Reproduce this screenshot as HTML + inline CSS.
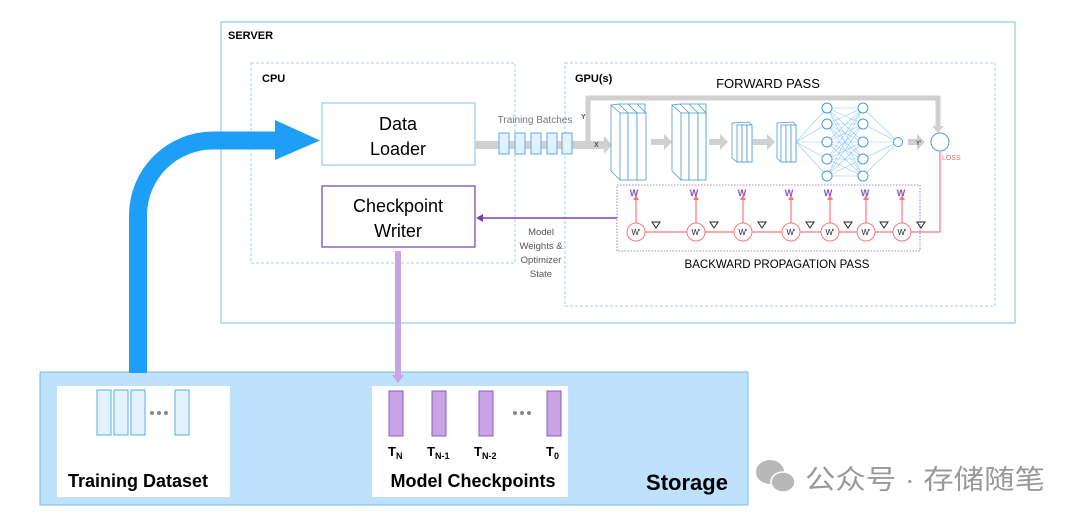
<!DOCTYPE html>
<html><head><meta charset="utf-8"><style>
html,body{margin:0;padding:0;background:#fff}
svg text{font-family:"Liberation Sans","Noto Sans CJK SC",sans-serif}
</style></head><body>
<svg width="1080" height="519" viewBox="0 0 1080 519" xmlns="http://www.w3.org/2000/svg">
<!-- server -->
<rect x="221" y="22" width="794" height="301" fill="none" stroke="#a6d4f5" stroke-width="1.5"/>
<text x="228" y="39" font-size="11" font-weight="bold">SERVER</text>
<rect x="251" y="63" width="264" height="200" fill="none" stroke="#9fd0f5" stroke-width="1" stroke-dasharray="3,2"/>
<text x="262" y="82" font-size="11" font-weight="bold">CPU</text>
<rect x="565" y="63" width="430" height="243" fill="none" stroke="#9fd0f5" stroke-width="1" stroke-dasharray="3,2"/>
<text x="575" y="82" font-size="11" font-weight="bold">GPU(s)</text>
<!-- storage -->
<rect x="40" y="372" width="708" height="133" fill="#bee2fb" stroke="#7bbbe8" stroke-width="1"/>
<rect x="57" y="386" width="173" height="111" fill="#fff"/>
<rect x="372" y="386" width="196" height="111" fill="#fff"/>
<g fill="#e3f2fd" stroke="#5aaee6" stroke-width="1">
<rect x="97" y="390" width="14" height="45"/><rect x="114" y="390" width="14" height="45"/><rect x="131" y="390" width="14" height="45"/><rect x="175" y="390" width="14" height="45"/>
</g>
<g fill="#888"><circle cx="152" cy="413" r="2"/><circle cx="159" cy="413" r="2"/><circle cx="166" cy="413" r="2"/></g>
<g fill="#c9a3e3" stroke="#8a5cc0" stroke-width="1">
<rect x="389" y="391" width="14" height="45"/><rect x="432" y="391" width="14" height="45"/><rect x="479" y="391" width="14" height="45"/><rect x="547" y="391" width="14" height="45"/>
</g>
<g fill="#888"><circle cx="515" cy="413" r="2"/><circle cx="522" cy="413" r="2"/><circle cx="529" cy="413" r="2"/></g>
<g font-size="13" font-weight="bold">
<text x="388" y="456">T<tspan font-size="9" dy="3">N</tspan></text>
<text x="427" y="456">T<tspan font-size="9" dy="3">N-1</tspan></text>
<text x="474" y="456">T<tspan font-size="9" dy="3">N-2</tspan></text>
<text x="546" y="456">T<tspan font-size="9" dy="3">0</tspan></text>
</g>
<text x="138" y="487" font-size="18" font-weight="bold" text-anchor="middle">Training Dataset</text>
<text x="473" y="487" font-size="18" font-weight="bold" text-anchor="middle">Model Checkpoints</text>
<text x="687" y="490" font-size="22" font-weight="bold" text-anchor="middle">Storage</text>
<!-- big blue arrow -->
<path d="M138 373 V215 A75 75 0 0 1 213 140.5 H277" fill="none" stroke="#1e9ff7" stroke-width="18"/>
<polygon points="275,120 320,140.5 275,160" fill="#1e9ff7"/>
<!-- boxes -->
<rect x="322" y="103" width="153" height="62" fill="#fff" stroke="#9fd0f5" stroke-width="1.3"/>
<text x="398" y="130" font-size="18" text-anchor="middle">Data</text>
<text x="398" y="155" font-size="18" text-anchor="middle">Loader</text>
<rect x="322" y="186" width="153" height="61" fill="#fff" stroke="#7b4fb0" stroke-width="1.3"/>
<text x="398" y="212" font-size="18" text-anchor="middle">Checkpoint</text>
<text x="398" y="237" font-size="18" text-anchor="middle">Writer</text>
<!-- purple down -->
<rect x="395" y="251" width="6" height="126" fill="#c9a3e3"/>
<polygon points="392,375 404,375 398,383" fill="#c9a3e3"/>
<!-- gray forward -->
<rect x="475" y="141" width="130" height="8" fill="#d0d0d0"/>
<polygon points="604,136 612,145 604,154" fill="#d0d0d0"/>
<path d="M588 145 V98 H938 V128" fill="none" stroke="#d0d0d0" stroke-width="5"/>
<polygon points="932,126 944,126 938,133" fill="#d0d0d0"/>
<text x="581" y="119" font-size="7" font-weight="bold" fill="#555">Y</text>
<text x="594" y="147" font-size="7" font-weight="bold" fill="#555">X</text>
<text x="535" y="123" font-size="10" fill="#777" text-anchor="middle">Training Batches</text>
<g fill="#e3f2fd" stroke="#5aaee6" stroke-width="1">
<rect x="499" y="133" width="10" height="21"/><rect x="515" y="133" width="10" height="21"/><rect x="531" y="133" width="10" height="21"/><rect x="547" y="133" width="10" height="21"/><rect x="562" y="133" width="10" height="21"/>
</g>
<text x="768" y="88" font-size="13" text-anchor="middle">FORWARD PASS</text>
<!-- gray arrows between layers -->
<g fill="#d0d0d0">
<polygon points="651,139 664,139 664,134 672,142 664,150 664,145 651,145"/>
<polygon points="709,139 720,139 720,134 728,142 720,150 720,145 709,145"/>
<polygon points="753,139 767,139 767,134 775,142 767,150 767,145 753,145"/>
<polygon points="908,139 917,139 917,134 925,142 917,150 917,145 908,145"/>
</g>
<text x="916" y="145" font-size="6" font-weight="bold" fill="#555">Y'</text>
<!-- layer blocks -->
<g fill="#fff" stroke="#4a9ad8" stroke-width="0.8">
<path d="M611 105 L619 104 L645 104 L645 178 L620 180 L611 171 Z"/>
<rect x="620" y="113" width="8" height="67"/><rect x="628" y="113" width="9" height="67"/><rect x="637" y="113" width="9" height="67"/>
<path d="M611 105 L620 113 M619 104 L628 113 M628 104 L637 113 M637 104 L646 113"/>
<path d="M672 105 L680 104 L706 104 L706 178 L681 180 L672 171 Z"/>
<rect x="681" y="113" width="8" height="67"/><rect x="689" y="113" width="9" height="67"/><rect x="698" y="113" width="8" height="67"/>
<path d="M672 105 L681 113 M680 104 L689 113 M689 104 L698 113 M698 104 L706 113"/>
<path d="M732 123 L749 122 L752 125 L752 162 L737 162 L732 158 Z"/>
<rect x="737" y="125" width="5" height="37"/><rect x="742" y="125" width="5" height="37"/><rect x="747" y="125" width="5" height="37"/>
<path d="M777 123 L793 122 L796 125 L796 162 L781 162 L777 158 Z"/>
<rect x="781" y="125" width="5" height="37"/><rect x="786" y="125" width="5" height="37"/><rect x="791" y="125" width="5" height="37"/>
</g>
<!-- NN -->
<g stroke="#8fcaf5" stroke-width="0.6">
<path d="M796 142 L827 108 M796 142 L827 124 M796 142 L827 142 M796 142 L827 159 M796 142 L827 176"/>
<path d="M827 108 L863 108 M827 108 L863 124 M827 108 L863 142 M827 108 L863 159 M827 108 L863 176
M827 124 L863 108 M827 124 L863 124 M827 124 L863 142 M827 124 L863 159 M827 124 L863 176
M827 142 L863 108 M827 142 L863 124 M827 142 L863 142 M827 142 L863 159 M827 142 L863 176
M827 159 L863 108 M827 159 L863 124 M827 159 L863 142 M827 159 L863 159 M827 159 L863 176
M827 176 L863 108 M827 176 L863 124 M827 176 L863 142 M827 176 L863 159 M827 176 L863 176"/>
<path d="M863 108 L898 142 M863 124 L898 142 M863 142 L898 142 M863 159 L898 142 M863 176 L898 142"/>
</g>
<g fill="#fff" stroke="#4a9ad8" stroke-width="1">
<circle cx="827" cy="108" r="5"/><circle cx="827" cy="124" r="5"/><circle cx="827" cy="142" r="5"/><circle cx="827" cy="159" r="5"/><circle cx="827" cy="176" r="5"/>
<circle cx="863" cy="108" r="5"/><circle cx="863" cy="124" r="5"/><circle cx="863" cy="142" r="5"/><circle cx="863" cy="159" r="5"/><circle cx="863" cy="176" r="5"/>
<circle cx="898" cy="142" r="4.5"/>
<circle cx="940" cy="142" r="9"/>
</g>
<text x="942" y="160" font-size="7" fill="#f07070">LOSS</text>
<!-- backward -->
<rect x="617" y="185" width="303" height="66" fill="none" stroke="#8a5cc0" stroke-width="0.8" stroke-dasharray="1.5,1.5"/>
<path d="M940 152 V232 H911" fill="none" stroke="#f87878" stroke-width="1.2"/>
<g stroke="#f87878" stroke-width="1.2" fill="none">
<path d="M893 232 H875 M857 232 H839 M821 232 H800 M782 232 H752 M734 232 H705 M687 232 H645"/>
<path d="M636 223 V199 M696 223 V199 M743 223 V199 M791 223 V199 M830 223 V199 M866 223 V199 M902 223 V199"/>
</g>
<g fill="#f87878">
<polygon points="911,229 906,232 911,235"/><polygon points="875,229 870,232 875,235"/><polygon points="839,229 834,232 839,235"/><polygon points="800,229 795,232 800,235"/><polygon points="752,229 747,232 752,235"/><polygon points="705,229 700,232 705,235"/><polygon points="645,229 640,232 645,235"/>
<polygon points="633,200 636,195 639,200"/><polygon points="693,200 696,195 699,200"/><polygon points="740,200 743,195 746,200"/><polygon points="788,200 791,195 794,200"/><polygon points="827,200 830,195 833,200"/><polygon points="863,200 866,195 869,200"/><polygon points="899,200 902,195 905,200"/>
</g>
<g fill="#fff" stroke="#f87878" stroke-width="1">
<circle cx="636" cy="232" r="9"/><circle cx="696" cy="232" r="9"/><circle cx="743" cy="232" r="9"/><circle cx="791" cy="232" r="9"/><circle cx="830" cy="232" r="9"/><circle cx="866" cy="232" r="9"/><circle cx="902" cy="232" r="9"/>
</g>
<g font-size="8" text-anchor="middle" fill="#222">
<text x="636" y="235">W'</text><text x="696" y="235">W'</text><text x="743" y="235">W'</text><text x="791" y="235">W'</text><text x="830" y="235">W'</text><text x="866" y="235">W'</text><text x="902" y="235">W'</text>
</g>
<g font-size="9" font-weight="bold" text-anchor="middle" fill="#8a4cc0">
<text x="634" y="196">W</text><text x="694" y="196">W</text><text x="742" y="196">W</text><text x="789" y="196">W</text><text x="828" y="196">W</text><text x="865" y="196">W</text><text x="901" y="196">W</text>
</g>
<g fill="none" stroke="#222" stroke-width="1">
<polygon points="652,222 660,222 656,228"/><polygon points="710,222 718,222 714,228"/><polygon points="758,222 766,222 762,228"/><polygon points="806,222 814,222 810,228"/><polygon points="844,222 852,222 848,228"/><polygon points="880,222 888,222 884,228"/><polygon points="917,222 925,222 921,228"/>
</g>
<text x="777" y="268" font-size="11.5" text-anchor="middle">BACKWARD PROPAGATION PASS</text>
<!-- purple arrow -->
<line x1="617" y1="218" x2="482" y2="218" stroke="#7b3fb0" stroke-width="1.5"/>
<polygon points="483,214 476,218 483,222" fill="#7b3fb0"/>
<g font-size="9.5" fill="#555" text-anchor="middle">
<text x="541" y="235">Model</text><text x="541" y="249">Weights &amp;</text><text x="541" y="263">Optimizer</text><text x="541" y="277">State</text>
</g>
<!-- watermark -->
<g fill="#b8b8b8"><ellipse cx="770" cy="472" rx="14" ry="12"/><ellipse cx="783" cy="482" rx="12" ry="10" stroke="#fff" stroke-width="1.5"/></g>
<text x="805" y="489" font-size="27" fill="#999" textLength="240" lengthAdjust="spacingAndGlyphs">公众号 · 存储随笔</text>
</svg>
</body></html>
